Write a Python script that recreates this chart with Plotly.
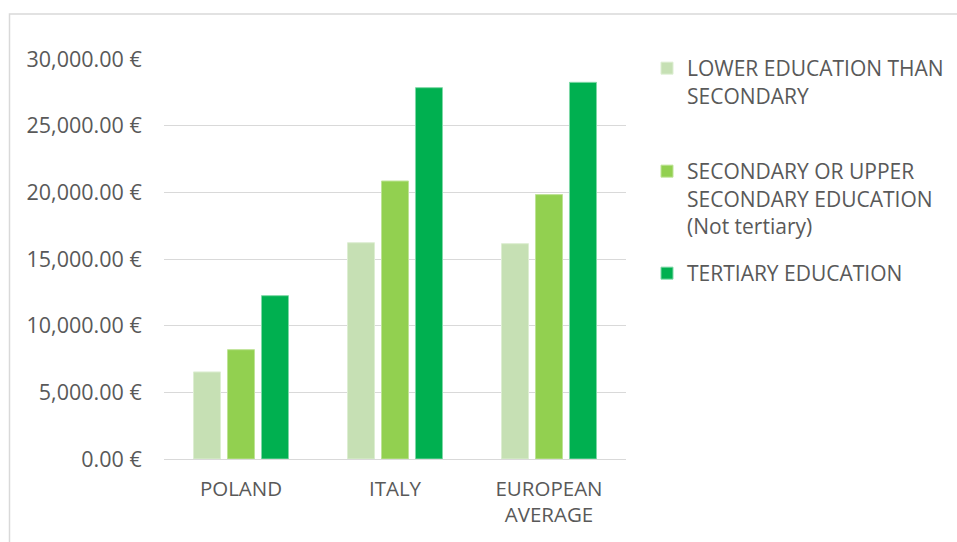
import plotly.graph_objects as go

# Median income by education level (EUR)
countries = ["POLAND", "ITALY", "EUROPEAN<br>AVERAGE"]
series_names = [
    "LOWER EDUCATION THAN<br>SECONDARY",
    "SECONDARY OR UPPER<br>SECONDARY EDUCATION<br>(Not tertiary)",
    "TERTIARY EDUCATION",
]
lower_secondary = [6530, 16220, 16150]
upper_secondary = [8200, 20850, 19830]
tertiary = [12250, 27850, 28250]
y_ticks = [0, 5000, 10000, 15000, 20000, 25000, 30000]
y_tick_labels = [f"{v:,.2f} €" for v in y_ticks]

colors = ["#C6E0B4", "#92D050", "#00B050"]
outline = ["#DDEED2", "#BEE396", "#7FD8A7"]

W, H = 957, 542
L, R, T, B = 164, 331, 59, 82.5
pw, ph = W - L - R, H - T - B


def px_x(p):
    return (p - L) / pw


def px_y(p):
    return (H - B - p) / ph


font_family = "Open Sans, Noto Sans, DejaVu Sans, sans-serif"
text_color = "#595959"

fig = go.Figure()
legend_ids = ["legend", "legend2", "legend3"]
for name, vals, col, oc, lg in zip(series_names,
                                   [lower_secondary, upper_secondary, tertiary],
                                   colors, outline, legend_ids):
    fig.add_trace(go.Bar(
        x=countries, y=vals, name=name, legend=lg, showlegend=True,
        marker=dict(color=col, line=dict(color=oc, width=1)),
        hoverinfo="x+y",
    ))

# legends are placed in container coordinates so they don't push the plot margins
legend_base = dict(
    xref="container", yref="container",
    xanchor="left", yanchor="top", valign="top", visible=True,
    font=dict(family=font_family, size=21, color=text_color),
    bgcolor="rgba(0,0,0,0)", itemwidth=30, borderwidth=0,
)
legend_left = 647 / W
fig.update_layout(
    width=W, height=H,
    showlegend=True,
    margin=dict(l=L, r=R, t=T, b=B, pad=0, autoexpand=False),
    paper_bgcolor="white", plot_bgcolor="white",
    barmode="group", bargap=0.338, bargroupgap=0.205,
    font=dict(family=font_family, size=21, color=text_color),
    legend=dict(x=legend_left, y=1 - 48 / H, **legend_base),
    legend2=dict(x=legend_left, y=1 - 151 / H, **legend_base),
    legend3=dict(x=legend_left, y=1 - 253 / H, **legend_base),
    xaxis=dict(
        showgrid=False, showline=False, zeroline=False,
        ticks="outside", ticklen=11, tickcolor="rgba(0,0,0,0)",
        tickfont=dict(family=font_family, size=20.5, color=text_color),
    ),
    yaxis=dict(
        range=[0, 30000], tickvals=y_ticks, ticktext=y_tick_labels,
        showgrid=True, gridcolor="#D9D9D9", gridwidth=1.3,
        zeroline=True, zerolinecolor="#D9D9D9", zerolinewidth=1.3,
        showline=False,
        ticks="outside", ticklen=17, tickcolor="rgba(0,0,0,0)",
        tickfont=dict(family=font_family, size=21.5, color=text_color),
    ),
    shapes=[dict(
        type="rect", xref="paper", yref="paper",
        x0=px_x(9.5), x1=px_x(980), y0=px_y(570), y1=px_y(14),
        line=dict(color="#D9D9D9", width=1.5), fillcolor="rgba(0,0,0,0)",
        layer="below",
    )],
)

fig.write_html("out.html")
